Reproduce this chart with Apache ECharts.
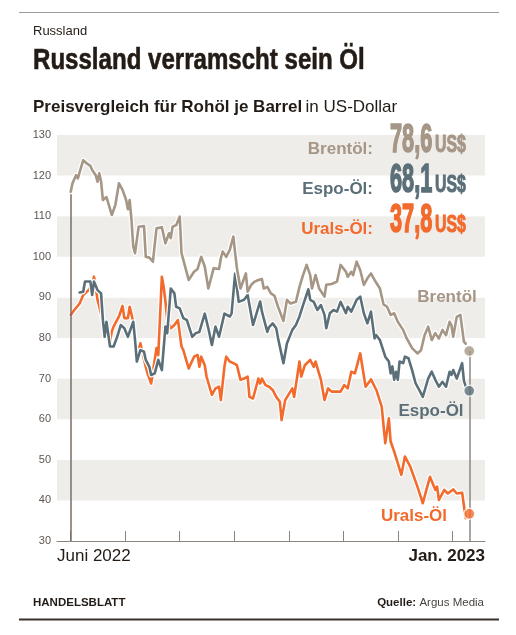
<!DOCTYPE html>
<html>
<head>
<meta charset="utf-8">
<script src="https://cdn.jsdelivr.net/npm/echarts@6/dist/echarts.min.js"></script>
<style>
html,body{margin:0;padding:0;background:#fff;}
#c{width:516px;height:635px;}
</style>
</head>
<body>
<div id="c"></div>
<script>
// ---- data (x = days since 1 June 2022, y = US$ per barrel) ----
const brentDays = [0,1,3,4,7,9,11,12,14,15,16,17,18,19,20,23,25,27,29,31,32,33,34,35,36,38,41,42,44,46,48,51,53,55,56,57,59,61,62,63,66,69,71,73,75,77,80,83,84,85,87,89,91,92,93,95,98,99,101,103,105,107,108,110,112,114,116,117,119,121,123,126,128,130,132,134,135,137,139,142,143,146,149,151,154,155,157,158,160,162,164,166,168,170,173,175,177,179,181,183,184,186,188,191,194,196,198,200,202,204,206,208,210,212,213,214,216,218,220,221];
const brentValues = [116.0,118.1,120.1,119.3,123.8,123.0,122.4,121.4,120.1,118.5,120.6,118.5,114.0,114.4,114.7,110.3,112.8,118.1,116.5,114.0,111.7,114.0,109.1,102.5,100.9,107.4,107.6,100.0,99.8,98.8,107.0,107.3,103.3,105.8,104.6,107.4,107.8,109.9,100.9,101.0,94.3,96.3,97.0,100.0,97.6,92.2,97.2,97.0,99.6,101.3,100.0,101.7,105.0,100.9,97.2,92.2,95.9,91.4,93.1,93.9,94.3,94.5,92.2,92.6,91.0,90.4,87.7,87.3,84.2,89.4,88.5,88.9,92.6,95.5,98.0,95.5,92.2,95.5,92.2,90.2,93.1,93.3,93.9,98.0,96.3,95.1,96.3,95.5,98.8,96.7,93.1,94.7,95.9,94.3,92.2,88.3,87.7,85.7,86.1,84.0,83.6,82.0,79.9,77.5,76.2,77.0,80.7,82.8,79.5,81.2,79.9,82.0,80.7,84.0,83.2,80.3,85.2,85.7,79.1,78.6];

const espoDays = [5,7,8,11,12,13,15,17,18,19,20,22,24,26,28,30,32,35,36,37,39,41,42,44,45,47,49,51,53,54,56,58,59,61,63,65,68,70,72,75,77,79,81,83,86,89,90,92,94,97,99,102,106,107,110,111,113,115,116,119,121,122,124,126,128,130,133,134,136,138,140,142,143,145,147,149,151,154,155,157,160,162,164,166,168,170,171,173,176,178,179,180,181,182,183,184,186,187,189,191,193,195,197,198,200,202,204,206,208,210,212,213,214,216,219,220,221];
const espoValues = [91.2,91.4,93.9,93.9,90.6,93.9,91.8,91.0,84.4,80.3,84.0,77.9,77.9,80.3,83.2,82.4,80.3,84.0,79.5,74.2,77.0,76.6,74.6,72.9,70.9,71.3,74.6,72.1,82.8,81.2,92.2,91.0,87.7,87.3,84.9,84.4,80.3,81.2,81.5,86.0,82.4,78.3,82.8,80.3,86.0,85.3,86.0,95.9,88.9,89.4,90.6,83.2,89.0,86.5,81.5,82.7,83.6,82.4,80.0,73.8,78.7,78.3,82.0,83.2,85.3,88.1,92.0,89.4,88.9,86.9,88.1,85.7,82.4,86.1,86.9,86.5,88.9,86.1,87.7,86.5,89.4,90.2,86.1,83.6,86.5,79.9,80.7,79.5,75.4,74.2,71.3,73.0,69.7,71.7,69.7,74.2,73.8,75.4,75.0,72.1,68.8,67.2,65.5,65.5,70.0,71.7,69.7,68.0,69.2,68.0,71.7,70.9,72.1,70.0,73.8,69.5,68.1];

const uralsDays = [0,2,5,7,10,12,13,14,15,16,18,21,22,23,24,27,29,30,32,33,35,36,37,39,40,42,43,45,47,48,49,51,52,53,54,56,58,60,62,63,66,69,71,72,73,75,76,79,81,83,84,86,87,89,91,93,95,97,99,100,102,105,106,107,109,111,113,115,117,118,120,124,125,128,129,131,134,136,137,140,142,144,146,151,153,155,157,159,162,165,168,171,172,174,176,178,179,181,182,185,187,190,194,197,199,201,204,205,206,209,211,214,216,219,221];
const uralsValues = [85.7,86.9,88.5,90.6,91.8,93.1,95.1,92.6,89.4,87.7,84.0,81.2,79.1,81.6,82.8,85.3,87.9,84.9,84.9,87.7,84.0,77.9,75.4,78.7,76.6,72.9,71.3,68.8,74.6,77.5,75.8,95.1,92.6,89.0,84.4,82.4,83.2,84.4,77.9,77.0,72.5,75.4,75.8,72.9,75.4,73.3,70.5,66.0,67.6,68.0,64.7,72.9,75.4,74.2,73.8,73.3,69.7,70.0,70.5,65.5,65.1,70.0,68.8,70.0,68.4,68.0,67.2,65.5,64.3,59.8,64.7,67.6,65.5,74.2,70.5,73.3,74.6,72.9,74.2,69.7,64.7,67.6,66.8,66.8,68.4,67.6,71.7,71.3,76.2,68.0,69.8,67.2,66.8,63.1,54.1,60.2,54.5,52.0,52.0,46.3,50.8,48.3,43.4,39.3,42.6,45.8,42.6,43.4,40.1,42.6,41.7,42.7,41.7,41.9,35.6];

const seriesNames = ['Brentöl', 'Espo-Öl', 'Urals-Öl'];
const latestPrices = ['78,6', '68,1', '37,8'];
const endDotDay = 223;
const endDotValues = [76.8, 67.0, 36.7];
const monthTickDays = [0, 30.5, 61, 91.5, 122, 152.5, 183, 213.5];
const yTicks = [30, 130, 10]; // min, max, step
const xLabels = ['Juni 2022', 'Jan. 2023'];

// ---- styling ----
const C_BRENT = '#a59686';
const C_ESPO = '#5b6f79';
const C_URALS = '#f26a2c';
const C_TEXT = '#231c16';
const C_AXIS = '#8c847c';
const FONT = '"Liberation Sans", Arial, sans-serif';

const pairs = (d, v) => d.map((x, i) => [x, v[i]]);
const brent = pairs(brentDays, brentValues);
const espo = pairs(espoDays, espoValues);
const urals = pairs(uralsDays, uralsValues);

function lineSeries(data, color, width, z) {
  return {
    type: 'line', data: data, showSymbol: false, symbol: 'none', z: z,
    lineStyle: { color: color, width: width, join: 'round', cap: 'round' },
    silent: true, animation: false
  };
}

const chart = echarts.init(document.getElementById('c'), null, { renderer: 'canvas' });

const colors = [C_BRENT, C_ESPO, C_URALS];
const legendRowsY = [140, 180, 220];

const graphics = [
  { type: 'line', shape: { x1: 19, y1: 12.5, x2: 499, y2: 12.5 }, style: { stroke: '#9c9c9c', lineWidth: 1 } },
  { type: 'text', x: 33, y: 31, style: { text: 'Russland', font: '13px ' + FONT, fill: C_TEXT, verticalAlign: 'middle' } },
  { type: 'text', x: 33, y: 61, scaleX: 0.83, style: { text: 'Russland verramscht sein Öl', font: 'bold 29px ' + FONT, fill: C_TEXT, stroke: C_TEXT, lineWidth: 0.6, verticalAlign: 'middle' } },
  { type: 'text', x: 33, y: 107, style: {
      text: '{b|Preisvergleich für Rohöl je Barrel} {r|in US-Dollar}', verticalAlign: 'middle',
      rich: { b: { font: 'bold 17px ' + FONT, fill: C_TEXT }, r: { font: '17px ' + FONT, fill: C_TEXT } } } },
  { type: 'text', x: 57, y: 556, style: { text: xLabels[0], font: '17px ' + FONT, fill: C_TEXT, verticalAlign: 'middle' } },
  { type: 'text', x: 485, y: 556, style: { text: xLabels[1], font: 'bold 17px ' + FONT, fill: C_TEXT, verticalAlign: 'middle', align: 'right' } },
  { type: 'text', x: 33, y: 603, style: { text: 'HANDELSBLATT', font: 'bold 11.5px ' + FONT, fill: C_TEXT, verticalAlign: 'middle' } },
  { type: 'text', x: 484, y: 603, style: {
      text: '{b|Quelle:} {r|Argus Media}', verticalAlign: 'middle', align: 'right',
      rich: { b: { font: 'bold 11.5px ' + FONT, fill: C_TEXT }, r: { font: '11.5px ' + FONT, fill: '#4a433d' } } } },
  { type: 'line', shape: { x1: 19, y1: 619.5, x2: 499, y2: 619.5 }, style: { stroke: '#3a302a', lineWidth: 2 } },
  // direct labels on the lines
  { type: 'text', x: 447, y: 297, style: { text: seriesNames[0], font: 'bold 17px ' + FONT, fill: C_BRENT, align: 'center', verticalAlign: 'middle' } },
  { type: 'text', x: 431, y: 411, style: { text: seriesNames[1], font: 'bold 17px ' + FONT, fill: C_ESPO, align: 'center', verticalAlign: 'middle' } },
  { type: 'text', x: 414, y: 516, style: { text: seriesNames[2], font: 'bold 17px ' + FONT, fill: C_URALS, align: 'center', verticalAlign: 'middle' } }
];
seriesNames.forEach((n, i) => {
  const y = legendRowsY[i];
  graphics.push({ type: 'text', x: 373, y: y + 9, style: { text: n + ':', font: 'bold 17px ' + FONT, fill: colors[i], align: 'right', verticalAlign: 'middle' } });
  graphics.push({ type: 'text', x: 390, y: y + 1, scaleX: 0.53, style: { text: latestPrices[i], font: 'bold 41px ' + FONT, fill: colors[i], stroke: colors[i], lineWidth: 1.6, verticalAlign: 'middle' } });
  graphics.push({ type: 'text', x: 435, y: y + 5, scaleX: 0.66, style: { text: 'US$', font: 'bold 24px ' + FONT, fill: colors[i], stroke: colors[i], lineWidth: 1, verticalAlign: 'middle' } });
});
graphics.forEach(g => { g.z = 100; g.silent = true; });

const option = {
  animation: false,
  backgroundColor: '#ffffff',
  grid: { left: 57, right: 31, top: 135, bottom: 94 },
  xAxis: {
    type: 'value', min: -7.67, max: 231.8,
    axisLine: { show: true, lineStyle: { color: C_AXIS, width: 1 } },
    axisTick: { show: true, inside: true, length: 10, customValues: monthTickDays, lineStyle: { color: C_AXIS, width: 1 } },
    axisLabel: { show: false },
    splitLine: { show: false }
  },
  yAxis: {
    type: 'value', min: yTicks[0], max: yTicks[1], interval: yTicks[2],
    axisLine: { show: false }, axisTick: { show: false },
    axisLabel: { color: '#5d5550', fontSize: 11, fontFamily: FONT, margin: 6 },
    splitLine: { show: false },
    splitArea: { show: true, areaStyle: { color: ['#ffffff', '#efedea'] } }
  },
  graphic: graphics,
  series: [
    {
      type: 'line', data: [], z: 1, silent: true,
      markLine: {
        silent: true, symbol: 'none', animation: false, label: { show: false },
        data: [
          [{ coord: [0, brentValues[0]], lineStyle: { color: '#7a6e66', width: 1.5, type: 'solid' } }, { coord: [0, yTicks[0]] }],
          [{ coord: [endDotDay, endDotValues[0]], lineStyle: { color: '#8f8780', width: 1.5, type: 'solid' } }, { coord: [endDotDay, yTicks[0]] }]
        ]
      }
    },
    lineSeries(urals, '#ffffff', 5, 2),
    lineSeries(urals, C_URALS, 2.6, 3),
    lineSeries(espo, '#ffffff', 5, 4),
    lineSeries(espo, C_ESPO, 2.6, 5),
    lineSeries(brent, '#ffffff', 5, 6),
    lineSeries(brent, C_BRENT, 2.6, 7),
    {
      type: 'scatter', z: 10, symbolSize: 11, silent: true,
      data: endDotValues.map((v, i) => ({ value: [endDotDay, v], itemStyle: { color: colors[i], borderColor: '#ffffff', borderWidth: 1.5 } }))
    }
  ]
};
chart.setOption(option);
</script>
</body>
</html>
